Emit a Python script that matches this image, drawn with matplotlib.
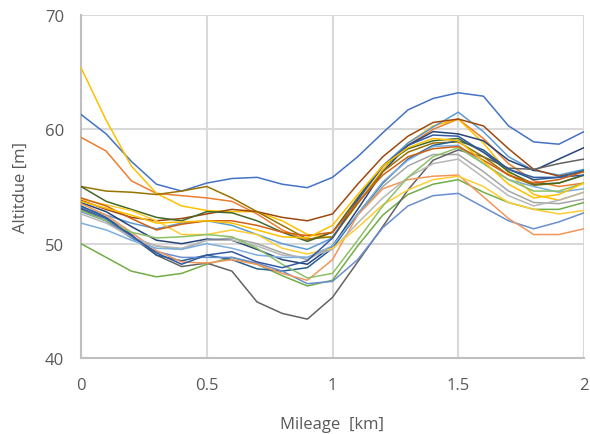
import matplotlib
matplotlib.use("Agg")
import matplotlib.pyplot as plt
import numpy as np

plt.rcParams['font.family'] = ['Open Sans', 'DejaVu Sans']

mileage = [0.0, 0.1, 0.2, 0.3, 0.4, 0.5, 0.6, 0.7, 0.8, 0.9, 1.0,
           1.1, 1.2, 1.3, 1.4, 1.5, 1.6, 1.7, 1.8, 1.9, 2.0]

s01 = [61.3, 59.6, 57.2, 55.2, 54.6, 55.3, 55.7, 55.8, 55.2, 54.9, 55.8, 57.6, 59.7, 61.7, 62.7, 63.2, 62.9, 60.3, 58.9, 58.7, 59.8]
s02 = [59.3, 58.1, 55.5, 54.4, 54.2, 54.0, 53.7, 52.6, 51.2, 50.3, 51.0, 54.0, 56.8, 58.6, 60.0, 60.9, 59.2, 57.0, 55.5, 55.0, 55.3]
s03 = [53.0, 52.0, 50.5, 49.8, 49.5, 50.3, 50.5, 50.0, 49.2, 48.6, 49.8, 52.5, 55.0, 56.8, 57.8, 57.8, 56.3, 54.6, 53.6, 53.5, 53.9]
s04 = [65.4, 60.8, 56.8, 54.4, 53.3, 52.9, 52.8, 52.8, 52.0, 50.8, 50.5, 53.5, 56.5, 58.8, 60.3, 60.9, 58.8, 56.2, 54.3, 53.8, 54.5]
s05 = [53.2, 52.5, 51.8, 51.3, 51.8, 52.0, 51.6, 50.8, 50.0, 49.5, 50.5, 53.8, 56.8, 58.8, 60.2, 61.5, 59.8, 57.6, 56.4, 56.0, 56.5]
s06 = [50.0, 48.8, 47.6, 47.1, 47.4, 48.2, 48.8, 48.2, 47.2, 46.3, 46.8, 49.8, 52.5, 54.3, 55.2, 55.6, 54.5, 53.6, 53.0, 53.0, 53.6]
s07 = [53.6, 52.8, 51.5, 50.3, 50.0, 50.4, 50.3, 49.5, 48.6, 48.2, 49.8, 53.0, 56.3, 58.6, 59.8, 59.6, 59.0, 57.3, 56.4, 57.4, 58.4]
s08 = [53.8, 53.0, 52.3, 52.0, 52.2, 52.6, 53.0, 52.8, 52.3, 52.0, 52.6, 55.2, 57.6, 59.4, 60.6, 60.9, 60.3, 58.3, 56.5, 55.9, 56.3]
s09 = [53.0, 52.0, 50.6, 49.0, 48.0, 48.3, 47.6, 44.9, 43.9, 43.4, 45.3, 48.4, 51.5, 54.7, 57.3, 58.2, 57.6, 56.6, 56.5, 57.0, 57.4]
s10 = [55.0, 54.6, 54.5, 54.3, 54.6, 55.0, 54.0, 52.8, 51.6, 50.4, 50.6, 53.5, 56.3, 58.0, 58.8, 58.9, 57.6, 56.0, 55.1, 55.3, 56.0]
s11 = [53.3, 52.3, 50.8, 49.0, 48.5, 49.0, 48.6, 47.8, 47.6, 47.9, 49.6, 52.6, 55.3, 57.4, 58.6, 59.0, 58.2, 56.5, 55.6, 55.8, 56.4]
s12 = [55.0, 53.7, 53.0, 52.3, 52.0, 52.8, 52.7, 52.0, 51.0, 50.2, 51.0, 54.0, 56.8, 58.3, 59.0, 59.2, 58.0, 56.3, 55.2, 55.3, 56.0]
s13 = [52.8, 52.0, 50.5, 49.3, 48.8, 48.8, 48.8, 48.3, 47.6, 46.5, 46.7, 48.6, 51.4, 53.3, 54.2, 54.4, 53.2, 52.0, 51.3, 51.9, 52.7]
s14 = [53.5, 52.5, 51.0, 49.4, 48.4, 48.3, 48.6, 48.2, 47.4, 46.8, 48.6, 52.5, 54.8, 55.6, 55.9, 56.0, 54.1, 52.2, 50.8, 50.8, 51.3]
s15 = [52.6, 51.8, 50.6, 49.8, 49.6, 50.3, 50.3, 49.8, 49.0, 48.8, 49.5, 51.8, 54.0, 55.8, 57.0, 57.4, 55.8, 54.2, 53.3, 53.8, 54.5]
s16 = [53.9, 53.4, 52.9, 52.0, 50.8, 50.8, 51.2, 50.8, 49.6, 49.1, 49.6, 51.4, 53.4, 54.7, 55.6, 55.9, 55.0, 53.6, 53.0, 52.6, 52.9]
s17 = [51.8, 51.2, 50.3, 49.6, 49.5, 50.0, 49.6, 49.0, 48.8, 48.8, 49.8, 52.6, 55.4, 57.3, 58.5, 58.6, 57.0, 55.6, 55.0, 54.5, 54.8]
s18 = [52.9, 52.0, 51.0, 50.5, 50.6, 50.8, 50.6, 49.6, 48.2, 47.0, 47.4, 50.3, 53.3, 55.8, 57.6, 58.4, 57.0, 55.6, 54.6, 54.6, 55.3]
s19 = [53.1, 52.2, 50.7, 49.2, 48.2, 49.0, 49.3, 48.4, 47.9, 48.5, 50.5, 53.8, 56.8, 58.6, 59.5, 59.4, 58.0, 56.5, 55.8, 55.8, 56.0]
s20 = [54.0, 53.3, 52.2, 51.2, 51.7, 52.0, 52.0, 51.6, 51.0, 50.7, 51.0, 53.6, 56.0, 57.6, 58.3, 58.5, 57.3, 56.0, 55.3, 55.6, 56.3]
s21 = [53.7, 53.1, 52.5, 51.8, 51.9, 52.0, 51.8, 51.2, 50.6, 50.5, 51.6, 54.3, 56.8, 58.4, 59.2, 59.0, 57.2, 55.2, 54.0, 54.3, 55.3]

series = [s01, s02, s03, s04, s05, s06, s07, s08, s09, s10, s11,
          s12, s13, s14, s15, s16, s17, s18, s19, s20, s21]
colors = ['#4472C4', '#ED7D31', '#A5A5A5', '#FFC000', '#5B9BD5', '#70AD47',
          '#264478', '#9E480E', '#636363', '#997300', '#255E91', '#43682B',
          '#698ED0', '#F1975A', '#B7B7B7', '#FFCD33', '#7CAFDD', '#8CC168',
          '#335AA1', '#D26012', '#FFC000']

fig = plt.figure(figsize=(5.9, 4.35), dpi=100)
ax = fig.add_axes([81/590, 1-359/435, (584-81)/590, (359-16)/435])

for s, c in zip(series, colors):
    ax.plot(mileage, s, color=c, lw=1.1, zorder=3)

ax.set_xlim(0, 2)
ax.set_ylim(40, 70)
ax.set_xticks([0, 0.5, 1, 1.5, 2])
ax.set_xticklabels(['0', '0.5', '1', '1.5', '2'])
ax.set_yticks([40, 50, 60, 70])
ax.grid(True, color='#D9D9D9', lw=1.5, zorder=0)
for sp in ['top', 'right']:
    ax.spines[sp].set_visible(False)
for sp in ['left', 'bottom']:
    ax.spines[sp].set_color('#BFBFBF')
    ax.spines[sp].set_linewidth(1.5)
ax.tick_params(length=0, labelsize=12, labelcolor='#595959')
ax.tick_params(axis='x', pad=14)
ax.tick_params(axis='y', pad=12)
ax.set_xlabel('Mileage  [km]', fontsize=12, color='#595959', labelpad=16)
ax.set_ylabel('Altitdue [m]', fontsize=12, color='#595959', labelpad=12)

fig.savefig('out.png', dpi=100)
